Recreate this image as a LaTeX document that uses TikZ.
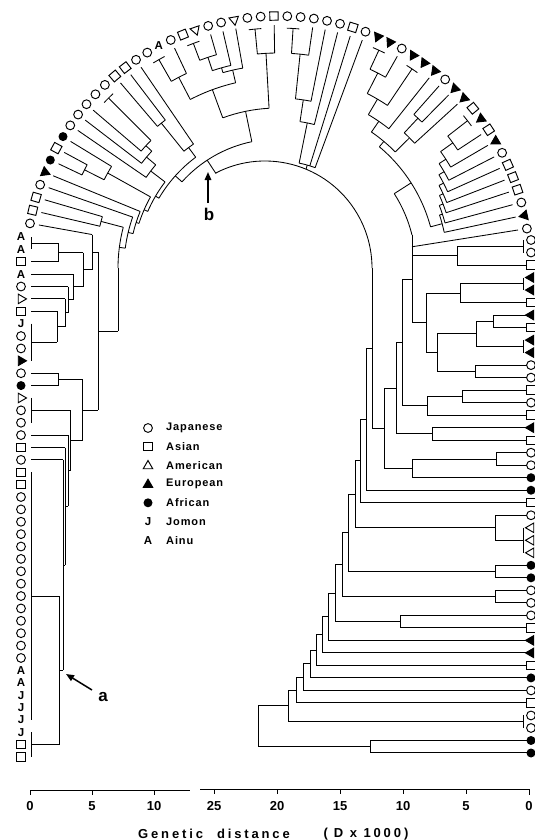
\documentclass[tikz,border=0pt]{standalone}
\usepackage{fontspec}
\setmainfont{Liberation Sans}
\newfontfamily\spacedfont{Liberation Sans}[LetterSpace=22]
\newfontfamily\legfont{Liberation Sans}[LetterSpace=8]
\usetikzlibrary{shapes.geometric,arrows.meta}
\def\mytrot{0}
\def\mysqr{0}
\newcommand\Rl[3]{\draw[ln] (#1:#2pt) -- (#1:#3pt);}
\newcommand\Ar[3]{\draw[ln] (#1:#3pt) arc[start angle=#1,end angle=#2,radius=#3pt];}
\newcommand\hl[3]{\draw[ln] (#1,#3) -- (#2,#3);}
\newcommand\vl[3]{\draw[ln] (#1,#2) -- (#1,#3);}
\begin{document}
\begin{tikzpicture}[x=1pt,y=-1pt,
  ln/.style={line width=0.85pt},
  sym/.style={inner sep=0pt, line width=0.95pt},
  jp/.style={sym,circle,draw,minimum size=8.8pt},
  as/.style={sym,rectangle,draw,minimum size=8.4pt,rotate=\mysqr},
  am/.style={sym,regular polygon,regular polygon sides=3,draw,minimum size=11pt,shape border rotate=\mytrot},
  eu/.style={am,fill=black},
  af/.style={sym,circle,fill=black,minimum size=9pt},
  la/.style={inner sep=0pt,font=\fontsize{11.5}{12}\selectfont\bfseries},
  lj/.style={la},
  lab/.style={inner sep=0pt,font=\fontsize{11}{13}\legfont\bfseries,anchor=west},
  ax/.style={inner sep=0pt,font=\fontsize{13}{15}\selectfont\bfseries},
  arr/.style={line width=1.5pt,-{Triangle[length=8pt,width=6.5pt]}},
]
\useasboundingbox (0,0) rectangle (535,840);
\fill[white] (0,0) rectangle (535,840);

% ---------------- ring leaves ----------------
\begin{scope}[shift={(278,268)}]
\foreach \mys/\myt [count=\i] in {jp/{},as/{},as/{},jp/{},eu/{},af/{},as/{},af/{},jp/{},jp/{},jp/{},jp/{},jp/{},as/{},as/{},jp/{},jp/{},la/A,jp/{},as/{},am/{},jp/{},jp/{},am/{},jp/{},jp/{},as/{},jp/{},jp/{},jp/{},jp/{},jp/{},as/{},jp/{},eu/{},eu/{},jp/{},eu/{},eu/{},eu/{},jp/{},eu/{},eu/{},as/{},eu/{},as/{},eu/{},jp/{},as/{},as/{},as/{},jp/{},eu/{},jp/{}}{
  \pgfmathsetmacro\myang{169.8-3.034*(\i-1)}
  \pgfmathsetmacro\mytrot{\myang+90}
  \pgfmathsetmacro\mysqr{\myang}
  \node[\mys] (rg\i) at (\myang:252pt) {\myt};
}
% left ladder
\Rl{169.8}{243}{189}
\Ar{180}{165.25}{160}
\Rl{166.8}{243}{183}\Rl{163.7}{243}{183}\Ar{166.8}{163.7}{183}\Rl{165.25}{183}{160}
\Rl{172.6}{160}{154}
\Rl{160.7}{243}{154}\Ar{172.6}{160.7}{154}\Rl{166.65}{154}{149}
\Rl{157.7}{243}{149}\Ar{166.65}{157.7}{149}\Rl{162.2}{149}{146}
\Rl{154.6}{243}{217}\Rl{151.6}{243}{217}\Ar{154.6}{151.6}{217}\Rl{153.1}{217}{195}
\Rl{148.6}{243}{195}\Ar{153.1}{148.6}{195}\Rl{150.85}{195}{146}
\Ar{162.2}{150.85}{146}\Rl{156.5}{146}{142}
\Ar{136.4}{133.4}{240}\Rl{134.9}{240}{180}
\Rl{139.5}{243}{180}\Ar{139.5}{134.9}{180}\Rl{137.2}{180}{172}
\Rl{142.5}{243}{172}\Ar{142.5}{137.2}{172}\Rl{139.85}{172}{160}
\Rl{145.5}{243}{160}\Ar{145.5}{139.85}{160}\Rl{142.7}{160}{142}
\Ar{156.5}{142.7}{142}\Rl{149.6}{142}{138}
\Rl{130.4}{243}{186}\Rl{127.3}{243}{186}\Ar{130.4}{127.3}{186}\Rl{128.85}{186}{150}
\Rl{124.3}{243}{150}\Ar{128.85}{124.3}{150}\Rl{126.6}{150}{138}
\Ar{149.6}{126.6}{138}\Rl{138.1}{138}{129}
\Ar{138.1}{101.7}{129}
\Rl{123.3}{129}{113}
% top cluster T1
\Ar{121.3}{118.2}{240}\Rl{119.75}{240}{215}
\Rl{115.2}{243}{215}\Ar{119.75}{115.2}{215}\Rl{117.5}{215}{190}
\Ar{112.2}{109.1}{240}\Rl{110.65}{240}{222}
\Rl{106.1}{243}{222}\Ar{110.65}{106.1}{222}\Rl{108.4}{222}{208}
\Rl{103.1}{243}{208}\Ar{108.4}{103.1}{208}\Rl{105.75}{208}{203}
\Rl{100.0}{243}{203}\Ar{105.75}{100}{203}\Rl{102.9}{203}{190}
\Ar{117.5}{102.9}{190}\Rl{110.2}{190}{160}
\Ar{97}{94}{240}\Rl{95.5}{240}{215}
\Rl{90.9}{243}{215}\Ar{95.5}{90.9}{215}\Rl{93.2}{215}{160}
\Ar{110.2}{93.2}{160}\Rl{101.7}{160}{129}
% top cluster T2
\Ar{87.9}{84.9}{240}\Rl{86.4}{240}{215}
\Rl{81.8}{243}{215}\Ar{86.4}{81.8}{215}\Rl{84.1}{215}{170}
\Rl{78.8}{243}{170}\Ar{84.1}{78.8}{170}\Rl{81.45}{170}{148}
\Rl{75.8}{243}{148}\Ar{81.45}{75.8}{148}\Rl{78.6}{148}{107}
\Rl{72.7}{243}{107}\Rl{69.7}{243}{107}\Ar{78.6}{69.7}{107}\Rl{74.15}{107}{102.7}
% right ring X1
\Ar{66.7}{63.6}{240}\Rl{65.15}{240}{219}
\Rl{60.6}{243}{219}\Ar{65.15}{60.6}{219}\Rl{62.9}{219}{196}
\Ar{57.6}{54.5}{240}\Rl{56.05}{240}{196}
\Ar{62.9}{56.05}{196}\Rl{59.5}{196}{178}
\Rl{51.5}{243}{178}\Ar{59.5}{51.5}{178}\Rl{55.5}{178}{165}
\Rl{48.5}{243}{205}\Rl{45.4}{243}{205}\Ar{48.5}{45.4}{205}\Rl{46.95}{205}{185}
\Rl{42.4}{243}{185}\Ar{46.95}{42.4}{185}\Rl{44.7}{185}{165}
\Ar{55.5}{44.7}{165}\Rl{50.1}{165}{158}
% right ring X2
\Ar{39.4}{36.3}{240}\Rl{37.85}{240}{215}
\Rl{33.3}{243}{215}\Ar{37.85}{33.3}{215}\Rl{35.6}{215}{200}
\Rl{30.3}{243}{200}\Ar{35.6}{30.3}{200}\Rl{32.95}{200}{192}
\Rl{27.2}{243}{192}\Ar{32.95}{27.2}{192}\Rl{30.1}{192}{186}
\Rl{24.2}{243}{186}\Ar{30.1}{24.2}{186}\Rl{27.15}{186}{181}
\Rl{21.2}{243}{181}\Ar{27.15}{21.2}{181}\Rl{24.2}{181}{177}
\Rl{18.2}{243}{177}\Ar{24.2}{18.2}{177}\Rl{21.2}{177}{173}
\Rl{15.1}{243}{173}\Ar{21.2}{15.1}{173}\Rl{18.15}{173}{170}
\Rl{12.1}{243}{170}\Ar{18.15}{12.1}{170}\Rl{15.1}{170}{158}
% join of X1 and X2, down to the right column
\Ar{50.1}{15.1}{158}\Rl{32.6}{158}{138}\Ar{32.6}{13.8}{138}
\Rl{9.0}{243}{135.7}
\end{scope}

% root arc
\draw[ln] (265,268) ++(117.5:107pt) arc[start angle=117.5,end angle=0,radius=107pt];

% ---------------- left column ----------------
\begin{scope}
\def\mytrot{-90}
\foreach \mys/\myt [count=\i] in {la/A,la/A,as/{},la/A,jp/{},am/{},as/{},lj/J,jp/{},jp/{},eu/{},jp/{},af/{},am/{},jp/{},jp/{},jp/{},as/{},jp/{},as/{},as/{},jp/{},jp/{},jp/{},jp/{},jp/{},jp/{},jp/{},jp/{},jp/{},jp/{},jp/{},jp/{},jp/{},jp/{},la/A,la/A,lj/J,lj/J,lj/J,lj/J,as/{},as/{}}{
  \pgfmathsetmacro\myy{237+12.381*(\i-1)}
  \node[\mys] (lc\i) at (21,\myy) {\myt};
}
\end{scope}
\vl{31}{237}{249.4}\hl{31}{58}{243.2}
\hl{31}{58}{261.8}\vl{58}{243.2}{261.8}\hl{58}{83}{252.5}
\vl{31}{323.7}{360.8}\hl{31}{57}{342.25}
\hl{31}{57}{311.3}\vl{57}{311.3}{342.25}\hl{57}{65}{326.8}
\hl{31}{65}{298.9}\vl{65}{298.9}{326.8}\hl{65}{68}{312.85}
\hl{31}{68}{286.5}\vl{68}{286.5}{312.85}\hl{68}{73}{299.7}
\hl{31}{73}{274.1}\vl{73}{274.1}{299.7}\hl{73}{83}{286.9}
\vl{83}{252.5}{286.9}\hl{83}{92}{269.7}
\vl{92}{234.5}{269.7}\hl{92}{98}{252.1}
\hl{31}{58}{373.2}\hl{31}{58}{385.6}\vl{58}{373.2}{385.6}\hl{58}{82}{379.4}
\vl{31}{397.9}{422.7}\hl{31}{70}{410.3}
\hl{31}{68}{435.1}
\hl{31}{65}{447.5}
\hl{31}{63}{459.9}
\vl{31}{472.2}{719.8}\hl{31}{59}{596}
\vl{31}{732.2}{757}\hl{31}{59}{744.6}
\vl{59}{596}{744.6}\hl{59}{63}{670.3}
\vl{63}{459.9}{670.3}\hl{63}{65}{565.1}
\vl{65}{447.5}{565.1}\hl{65}{68}{506.3}
\vl{68}{435.1}{506.3}\hl{68}{70}{470.7}
\vl{70}{410.3}{470.7}\hl{70}{82}{440.5}
\vl{82}{379.4}{440.5}\hl{82}{98}{410}
\vl{98}{252.1}{410}\hl{98}{118}{331}
\vl{118}{268}{331}

% ---------------- right column ----------------
\begin{scope}
\def\mytrot{90}
\foreach \mys [count=\i] in {jp,jp,as,eu,eu,as,eu,as,eu,eu,jp,jp,as,jp,as,eu,as,jp,jp,af,af,as,jp,am,am,am,af,af,jp,jp,jp,as,eu,eu,as,af,jp,as,jp,jp,af,af}{
  \pgfmathsetmacro\myy{240+12.512*(\i-1)}
  \node[\mys] (rc\i) at (531,\myy) {};
}
\end{scope}
\vl{523}{240}{252.5}\hl{523}{457}{246.3}
\hl{526.5}{457}{265}\vl{457}{246.3}{265}\hl{457}{412}{255.6}
\vl{523}{277.5}{290}\hl{523}{460}{283.8}
\hl{526.5}{460}{302.6}\vl{460}{283.8}{302.6}\hl{460}{426}{293.2}
\hl{526.5}{493}{315.1}\hl{526.5}{493}{327.6}\vl{493}{315.1}{327.6}\hl{493}{476}{321.4}
\vl{523}{340.1}{352.6}\hl{523}{476}{346.4}
\vl{476}{321.4}{346.4}\hl{476}{437}{333.9}
\hl{526.5}{475}{365.1}\hl{526.5}{475}{377.6}\vl{475}{365.1}{377.6}\hl{475}{437}{371.4}
\vl{437}{333.9}{371.4}\hl{437}{426}{352.6}
\vl{426}{293.2}{352.6}\hl{426}{412}{322.9}
\vl{412}{235}{322.9}\hl{412}{402}{279}
\hl{526.5}{462}{390.1}\hl{526.5}{462}{402.6}\vl{462}{390.1}{402.6}\hl{462}{427}{396.4}
\hl{526.5}{427}{415.1}\vl{427}{396.4}{415.1}\hl{427}{402}{405.7}
\vl{402}{279}{405.7}\hl{402}{396}{342.4}
\hl{526.5}{432}{427.7}\hl{526.5}{432}{440.2}\vl{432}{427.7}{440.2}\hl{432}{396}{433.9}
\vl{396}{342.4}{433.9}\hl{396}{384}{388.2}
\hl{526.5}{496}{452.7}\hl{526.5}{496}{465.2}\vl{496}{452.7}{465.2}\hl{496}{412}{459}
\hl{526.5}{412}{477.7}\vl{412}{459}{477.7}\hl{412}{384}{468.3}
\vl{384}{388.2}{468.3}\hl{384}{372}{428.2}
\vl{372}{268}{428.2}\hl{372}{366}{348}
\hl{526.5}{366}{490.2}\vl{366}{348}{490.2}\hl{366}{360}{419.1}
\hl{526.5}{360}{502.7}\vl{360}{419.1}{502.7}\hl{360}{355}{460.9}
\hl{526.5}{495}{515.2}\vl{523}{527.7}{552.7}\hl{523}{495}{540.2}\vl{495}{515.2}{540.2}\hl{495}{355}{527.7}
\vl{355}{460.9}{527.7}\hl{355}{348}{494.3}
\hl{526.5}{495}{565.2}\hl{526.5}{495}{577.8}\vl{495}{565.2}{577.8}\hl{495}{348}{571.5}
\vl{348}{494.3}{571.5}\hl{348}{342}{532.9}
\hl{526.5}{495}{590.3}\hl{526.5}{495}{602.8}\vl{495}{590.3}{602.8}\hl{495}{342}{596.5}
\vl{342}{532.9}{596.5}\hl{342}{335}{564.7}
\hl{526.5}{400}{615.3}\hl{526.5}{400}{627.8}\vl{400}{615.3}{627.8}\hl{400}{335}{621.5}
\vl{335}{564.7}{621.5}\hl{335}{328}{593.1}
\hl{526.5}{328}{640.3}\vl{328}{593.1}{640.3}\hl{328}{322}{616.7}
\hl{526.5}{322}{652.8}\vl{322}{616.7}{652.8}\hl{322}{316}{634.7}
\hl{526.5}{316}{665.3}\vl{316}{634.7}{665.3}\hl{316}{310}{650}
\hl{526.5}{310}{677.8}\vl{310}{650}{677.8}\hl{310}{303}{663.9}
\hl{526.5}{303}{690.3}\vl{303}{663.9}{690.3}\hl{303}{296}{677.1}
\hl{526.5}{296}{702.8}\vl{296}{677.1}{702.8}\hl{296}{288}{690}
\vl{523}{715.3}{727.9}\hl{523}{288}{721.6}
\vl{288}{690}{721.6}\hl{288}{258}{705.8}
\hl{526.5}{370}{740.4}\hl{526.5}{370}{752.9}\vl{370}{740.4}{752.9}\hl{370}{258}{746.6}
\vl{258}{705.8}{746.6}

% ---------------- legend ----------------
\node[jp] (lg1) at (148,428) {};
\node[as] (lg2) at (148,446.7) {};
\node[am] (lg3) at (148,466) {};
\node[eu] (lg4) at (148,484.7) {};
\node[af] (lg5) at (148,502.8) {};
\node[lj] (lg6) at (148,521.5) {J};
\node[la] (lg7) at (148,540.2) {A};
\node[lab] (lt1) at (166,428) {Japanese};
\node[lab] (lt2) at (166,446.7) {Asian};
\node[lab] (lt3) at (166,465.4) {American};
\node[lab] (lt4) at (166,484.1) {European};
\node[lab] (lt5) at (166,502.8) {African};
\node[lab] (lt6) at (166,521.5) {Jomon};
\node[lab] (lt7) at (166,540.2) {Ainu};

% ---------------- labels a, b ----------------
\node[inner sep=0pt,font=\fontsize{17}{17}\selectfont\bfseries] (lbb) at (209,214) {b};
\coordinate (bt) at (208,172);
\draw[arr] (208,203) -- (bt);
\node[inner sep=0pt,font=\fontsize{17}{17}\selectfont\bfseries] (lba) at (103,697) {a};
\coordinate (at) at (66,674);
\draw[arr] (92,690) -- (at);

% ---------------- axes ----------------
\draw[ln] (30,795) -- (30,790) -- (190,790);
\draw[ln] (92,790) -- (92,795);
\draw[ln] (154,790) -- (154,795);
\draw[ln] (200,789) -- (529,789) -- (529,795);
\foreach \xx in {466,403,340,277,214}{\draw[ln] (\xx,789) -- (\xx,794);}
\node[ax] (x0) at (30,806) {0};
\node[ax] (x5) at (92,806) {5};
\node[ax] (x10) at (154,806) {10};
\node[ax] (y25) at (214,806) {25};
\node[ax] (y20) at (277,806) {20};
\node[ax] (y15) at (340,806) {15};
\node[ax] (y10) at (403,806) {10};
\node[ax] (y5) at (466,806) {5};
\node[ax] (y0) at (529,806) {0};
\node[inner sep=0pt,font=\fontsize{13}{15}\spacedfont\bfseries] (tt1) at (214,834) {Genetic\hspace{14pt}distance};
\node[inner sep=0pt,font=\fontsize{13}{15}\spacedfont\bfseries] (tt2) at (366,834) {(\hspace{6pt}D x 1000\hspace{3pt})};
\end{tikzpicture}
\end{document}
